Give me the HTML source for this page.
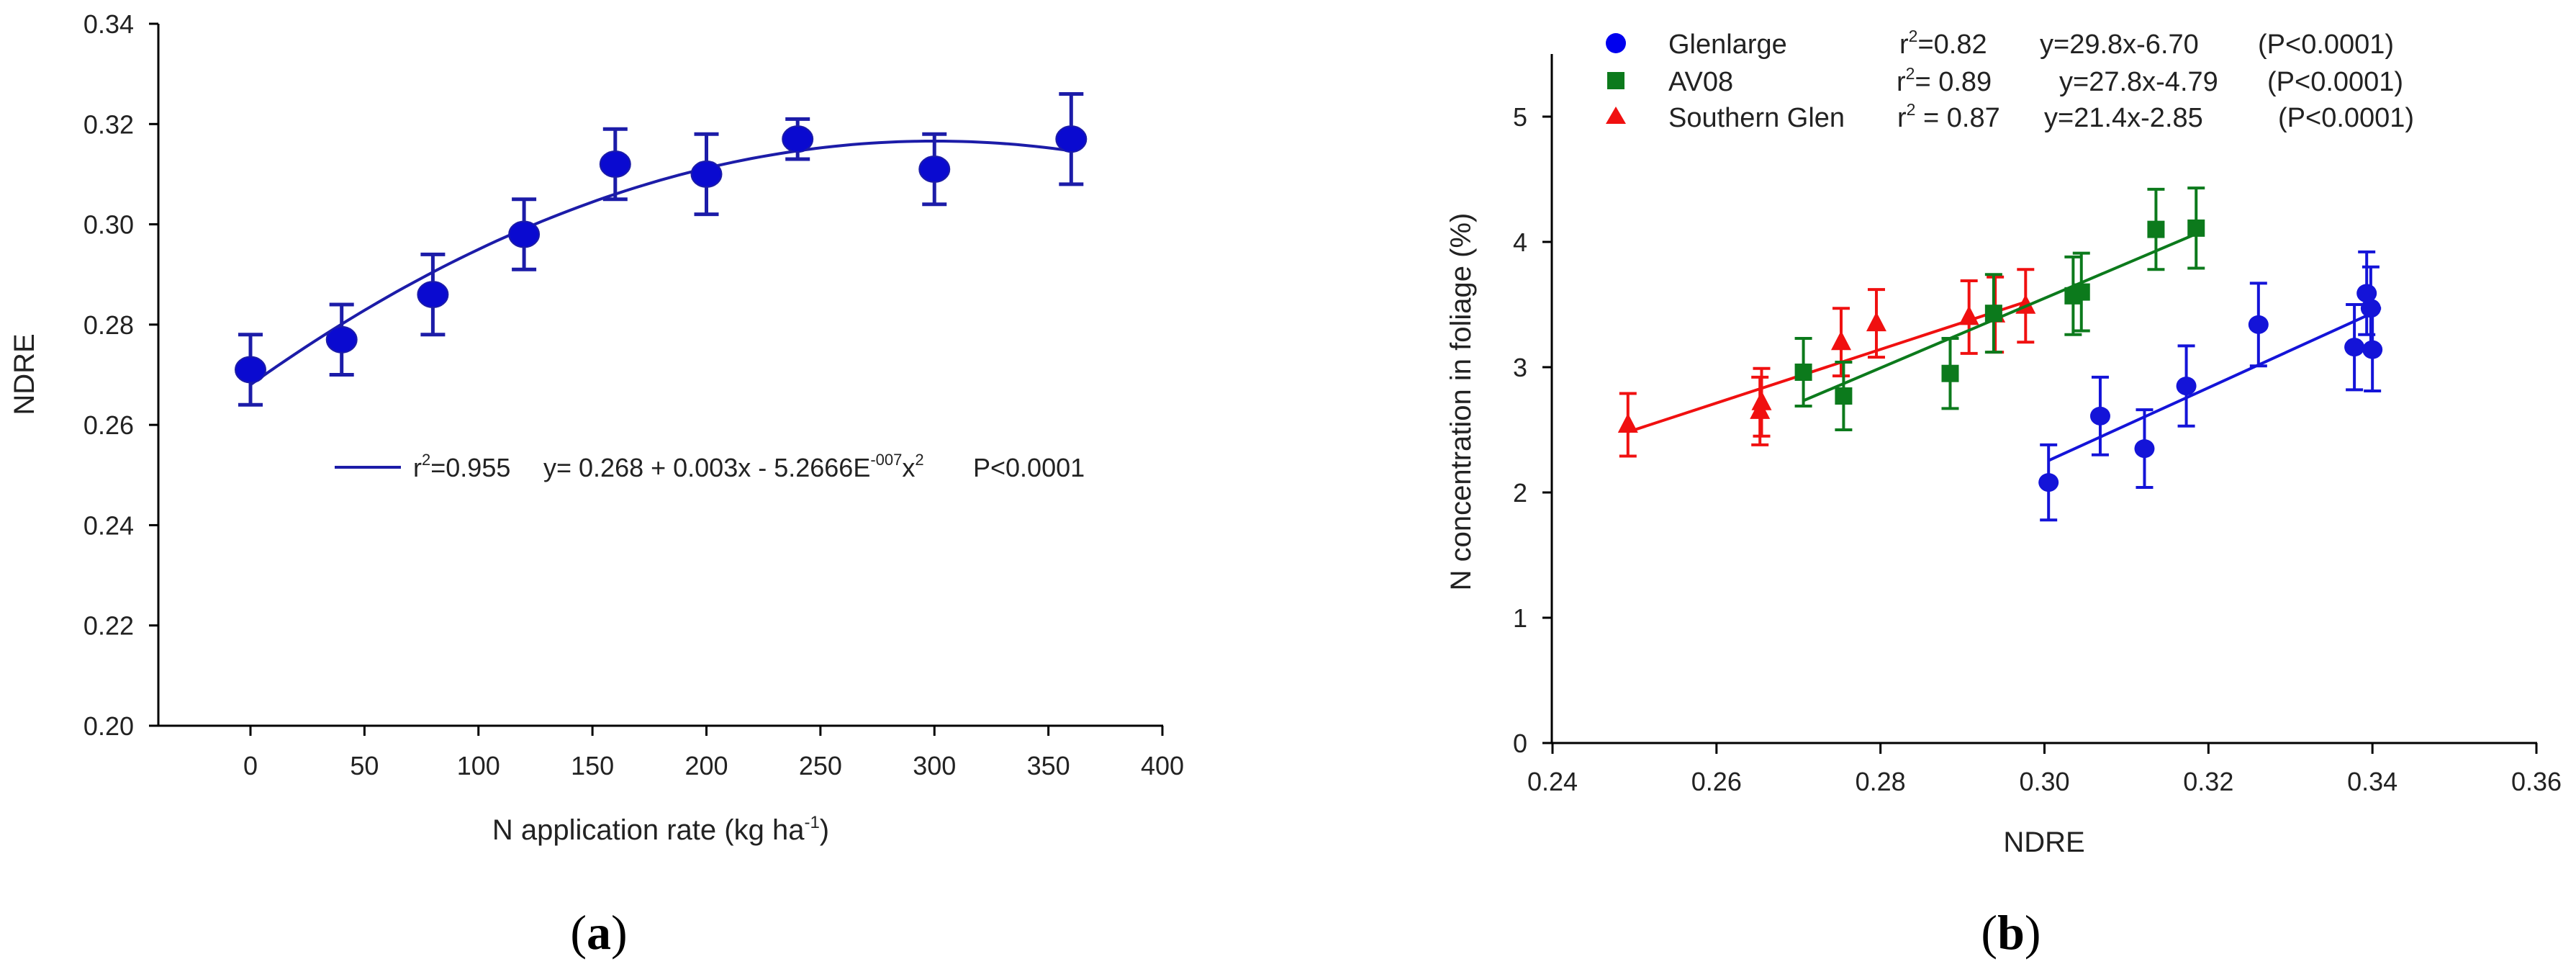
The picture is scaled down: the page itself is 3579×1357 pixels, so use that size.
<!DOCTYPE html>
<html><head><meta charset="utf-8"><style>
html,body{margin:0;padding:0;background:#fff;}
svg{display:block;font-family:"Liberation Sans",Arial,sans-serif;}
</style></head><body>
<svg id="fig" width="3579" height="1357" viewBox="0 0 3579 1357" xmlns="http://www.w3.org/2000/svg">
<g id="pa"></g>
<g id="pb"></g>
</svg>
<script>
// ---------- Panel (a) data ----------
const aRates = [0, 40, 80, 120, 160, 200, 240, 300, 360];
const aNdre = [0.271, 0.277, 0.286, 0.298, 0.312, 0.310, 0.317, 0.311, 0.317];
const aErr = [0.007, 0.007, 0.008, 0.007, 0.007, 0.008, 0.004, 0.007, 0.009];
const aFitCoef = [0.268, 0.000324, -5.4e-7];
const aXTicks = [0, 50, 100, 150, 200, 250, 300, 350, 400];
const aYTicks = [0.20, 0.22, 0.24, 0.26, 0.28, 0.30, 0.32, 0.34];

// ---------- Panel (b) data ----------
const gX = [0.3005, 0.3068, 0.3122, 0.3173, 0.3261, 0.3378, 0.3393, 0.3398, 0.3400];
const gY = [2.08, 2.61, 2.35, 2.85, 3.34, 3.16, 3.59, 3.47, 3.14];
const gE = [0.30, 0.31, 0.31, 0.32, 0.33, 0.34, 0.33, 0.33, 0.33];
const avX = [0.2706, 0.2755, 0.2885, 0.2938, 0.3035, 0.3045, 0.3136, 0.3185];
const avY = [2.96, 2.77, 2.95, 3.43, 3.57, 3.60, 4.10, 4.11];
const avE = [0.27, 0.27, 0.28, 0.31, 0.31, 0.31, 0.32, 0.32];
const sgX = [0.2492, 0.2653, 0.2655, 0.2752, 0.2795, 0.2908, 0.2940, 0.2977];
const sgY = [2.54, 2.65, 2.72, 3.20, 3.35, 3.40, 3.42, 3.49];
const sgE = [0.25, 0.27, 0.27, 0.27, 0.27, 0.29, 0.30, 0.29];
const gFit = [29.8, -6.70];
const avFit = [27.8, -4.79];
const sgFit = [21.4, -2.85];
const bXTicks = [0.24, 0.26, 0.28, 0.30, 0.32, 0.34, 0.36];
const bYTicks = [0, 1, 2, 3, 4, 5];

const NS = "http://www.w3.org/2000/svg";
function mk(parent, tag, attrs, text) {
  const e = document.createElementNS(NS, tag);
  for (const k in attrs) e.setAttribute(k, attrs[k]);
  if (text !== undefined) e.textContent = text;
  parent.appendChild(e);
  return e;
}

// ===== Panel A =====
const pa = document.getElementById('pa');
const ax = v => 348 + (v - 0) * (1615 - 348) / 400;
const ay = v => 1008 - (v - 0.20) * (1008 - 33) / 0.14;
let el;
el = mk(pa, 'line', {x1: 220, y1: 33, x2: 220, y2: 1008, stroke: '#000', 'stroke-width': 3});


el = mk(pa, 'line', {x1: 207, y1: 1008, x2: 1616, y2: 1008, stroke: '#000', 'stroke-width': 3});


aYTicks.forEach(t => {
  const y = ay(t);
  el = mk(pa, 'line', {x1: 207, y1: y, x2: 220, y2: y, stroke: '#000', 'stroke-width': 3});
  
  
  el = mk(pa, 'text', {x: 186, y: y + 13, 'text-anchor': 'end', 'font-size': 36, fill: '#222'}, t.toFixed(2));
  
  
});
aXTicks.forEach(t => {
  const x = ax(t);
  el = mk(pa, 'line', {x1: x, y1: 1008, x2: x, y2: 1022, stroke: '#000', 'stroke-width': 3});
  
  
  el = mk(pa, 'text', {x: x, y: 1076, 'text-anchor': 'middle', 'font-size': 36, fill: '#222'}, String(t));
  
  
});
// fit curve
let d = '';
for (let x = aRates[0]; x <= aRates[aRates.length - 1]; x += 4) {
  const y = aFitCoef[0] + aFitCoef[1] * x + aFitCoef[2] * x * x;
  d += (d ? 'L' : 'M') + ax(x).toFixed(1) + ',' + ay(y).toFixed(1);
}
el = mk(pa, 'path', {d: d, fill: 'none', stroke: '#1c1ca8', 'stroke-width': 4});


aRates.forEach((r, i) => {
  const x = ax(r), y = ay(aNdre[i]), y1 = ay(aNdre[i] + aErr[i]), y2 = ay(aNdre[i] - aErr[i]);
  el = mk(pa, 'path', {d: `M${x},${y1}V${y2}M${x-17},${y1}H${x+17}M${x-17},${y2}H${x+17}`, stroke: '#1c1ca8', 'stroke-width': 5, fill: 'none'});
  
  
  el = mk(pa, 'ellipse', {cx: x, cy: y, rx: 21, ry: 18, fill: '#0a0ad0', stroke: '#1c1ca8', 'stroke-width': 2});
  
  
});
el = mk(pa, 'line', {x1: 465, y1: 649, x2: 557, y2: 649, stroke: '#1c1ca8', 'stroke-width': 4});


el = mk(pa, 'text', {x: 574, y: 662, 'font-size': 36, fill: '#222'});


el.innerHTML = 'r<tspan dy="-16" font-size="22">2</tspan><tspan dy="16">=0.955</tspan>';
el = mk(pa, 'text', {x: 755, y: 662, 'font-size': 36, fill: '#222'});


el.innerHTML = 'y= 0.268 + 0.003x - 5.2666E<tspan dy="-16" font-size="22">-007</tspan><tspan dy="16">x</tspan><tspan dy="-16" font-size="22">2</tspan>';
el = mk(pa, 'text', {x: 1352, y: 662, 'font-size': 36, fill: '#222'}, 'P<0.0001');


el = mk(pa, 'text', {x: 47, y: 520, 'text-anchor': 'middle', 'font-size': 40, fill: '#222', transform: 'rotate(-90 47 520)'}, 'NDRE');


el = mk(pa, 'text', {x: 918, y: 1166, 'text-anchor': 'middle', 'font-size': 40, fill: '#222'});


el.innerHTML = 'N application rate (kg ha<tspan dy="-16" font-size="24">-1</tspan><tspan dy="16">)</tspan>';
el = mk(pa, 'text', {x: 832, y: 1318, 'text-anchor': 'middle', 'font-size': 68, fill: '#000', 'font-family': '"Liberation Serif",serif'});


el.innerHTML = '(<tspan font-weight="bold">a</tspan>)';

// ===== Panel B =====
const pb = document.getElementById('pb');
const bx = v => 2157 + (v - 0.24) * (3524 - 2157) / 0.12;
const by = v => 1032 - v * (1032 - 162) / 5;
el = mk(pb, 'line', {x1: 2156, y1: 75, x2: 2156, y2: 1032, stroke: '#000', 'stroke-width': 3});


el = mk(pb, 'line', {x1: 2143, y1: 1032, x2: 3525, y2: 1032, stroke: '#000', 'stroke-width': 3});


bYTicks.forEach(t => {
  const y = by(t);
  el = mk(pb, 'line', {x1: 2143, y1: y, x2: 2156, y2: y, stroke: '#000', 'stroke-width': 3});
  
  
  el = mk(pb, 'text', {x: 2122, y: y + 13, 'text-anchor': 'end', 'font-size': 36, fill: '#222'}, String(t));
  
  
});
bXTicks.forEach(t => {
  const x = bx(t);
  el = mk(pb, 'line', {x1: x, y1: 1032, x2: x, y2: 1047, stroke: '#000', 'stroke-width': 3});
  
  
  el = mk(pb, 'text', {x: x, y: 1098, 'text-anchor': 'middle', 'font-size': 36, fill: '#222'}, t.toFixed(2));
  
  
});
function series(xs, ys, es, fit, color, shape, name) {
  const xmin = Math.min(...xs), xmax = Math.max(...xs);
  el = mk(pb, 'line', {x1: bx(xmin), y1: by(fit[0] * xmin + fit[1]), x2: bx(xmax), y2: by(fit[0] * xmax + fit[1]), stroke: color, 'stroke-width': 4});
  
  
  xs.forEach((v, i) => {
    const x = bx(v), y = by(ys[i]), y1 = by(ys[i] + es[i]), y2 = by(ys[i] - es[i]);
    el = mk(pb, 'path', {d: `M${x},${y1}V${y2}M${x-12},${y1}H${x+12}M${x-12},${y2}H${x+12}`, stroke: color, 'stroke-width': 4, fill: 'none'});
    
    
    if (shape === 'circle') el = mk(pb, 'ellipse', {cx: x, cy: y, rx: 14, ry: 13, fill: color});
    else if (shape === 'square') el = mk(pb, 'rect', {x: x - 12, y: y - 12, width: 24, height: 24, fill: color});
    else el = mk(pb, 'polygon', {points: `${x},${y-16} ${x-14},${y+11} ${x+14},${y+11}`, fill: color});
    
    
  });
}
series(sgX, sgY, sgE, sgFit, '#f01010', 'tri', 'southern-glen');
series(avX, avY, avE, avFit, '#0c7a1c', 'square', 'av08');
series(gX, gY, gE, gFit, '#1414d8', 'circle', 'glenlarge');

// legend b
el = mk(pb, 'ellipse', {cx: 2245, cy: 60, rx: 14, ry: 14, fill: '#0000ee'});


el = mk(pb, 'rect', {x: 2233, y: 100, width: 24, height: 24, fill: '#0c7a1c'});


el = mk(pb, 'polygon', {points: '2245,148 2231,172 2259,172', fill: '#f01010'});


const rows = [
  {y: 74, name: 'Glenlarge', rx: 2639, r: '=0.82', ex: 2834, eq: 'y=29.8x-6.70', px: 3137, id: 'glenlarge'},
  {y: 126, name: 'AV08', rx: 2635, r: '= 0.89', ex: 2861, eq: 'y=27.8x-4.79', px: 3150, id: 'av08'},
  {y: 176, name: 'Southern Glen', rx: 2636, r: ' = 0.87', ex: 2840, eq: 'y=21.4x-2.85', px: 3165, id: 'southern-glen'}
];
rows.forEach(r => {
  el = mk(pb, 'text', {x: 2318, y: r.y, 'font-size': 38, fill: '#222'}, r.name);
  
  
  el = mk(pb, 'text', {x: r.rx, y: r.y, 'font-size': 38, fill: '#222'});
  
  
  el.innerHTML = 'r<tspan dy="-16" font-size="23">2</tspan><tspan dy="16">' + r.r + '</tspan>';
  el = mk(pb, 'text', {x: r.ex, y: r.y, 'font-size': 38, fill: '#222'}, r.eq);
  
  
  el = mk(pb, 'text', {x: r.px, y: r.y, 'font-size': 38, fill: '#222'}, '(P<0.0001)');
  
  
});
el = mk(pb, 'text', {x: 2043, y: 558, 'text-anchor': 'middle', 'font-size': 40, fill: '#222', transform: 'rotate(-90 2043 558)'}, 'N concentration in foliage (%)');


el = mk(pb, 'text', {x: 2840, y: 1183, 'text-anchor': 'middle', 'font-size': 40, fill: '#222'}, 'NDRE');


el = mk(pb, 'text', {x: 2794, y: 1318, 'text-anchor': 'middle', 'font-size': 68, fill: '#000', 'font-family': '"Liberation Serif",serif'});


el.innerHTML = '(<tspan font-weight="bold">b</tspan>)';
</script>
</body></html>
